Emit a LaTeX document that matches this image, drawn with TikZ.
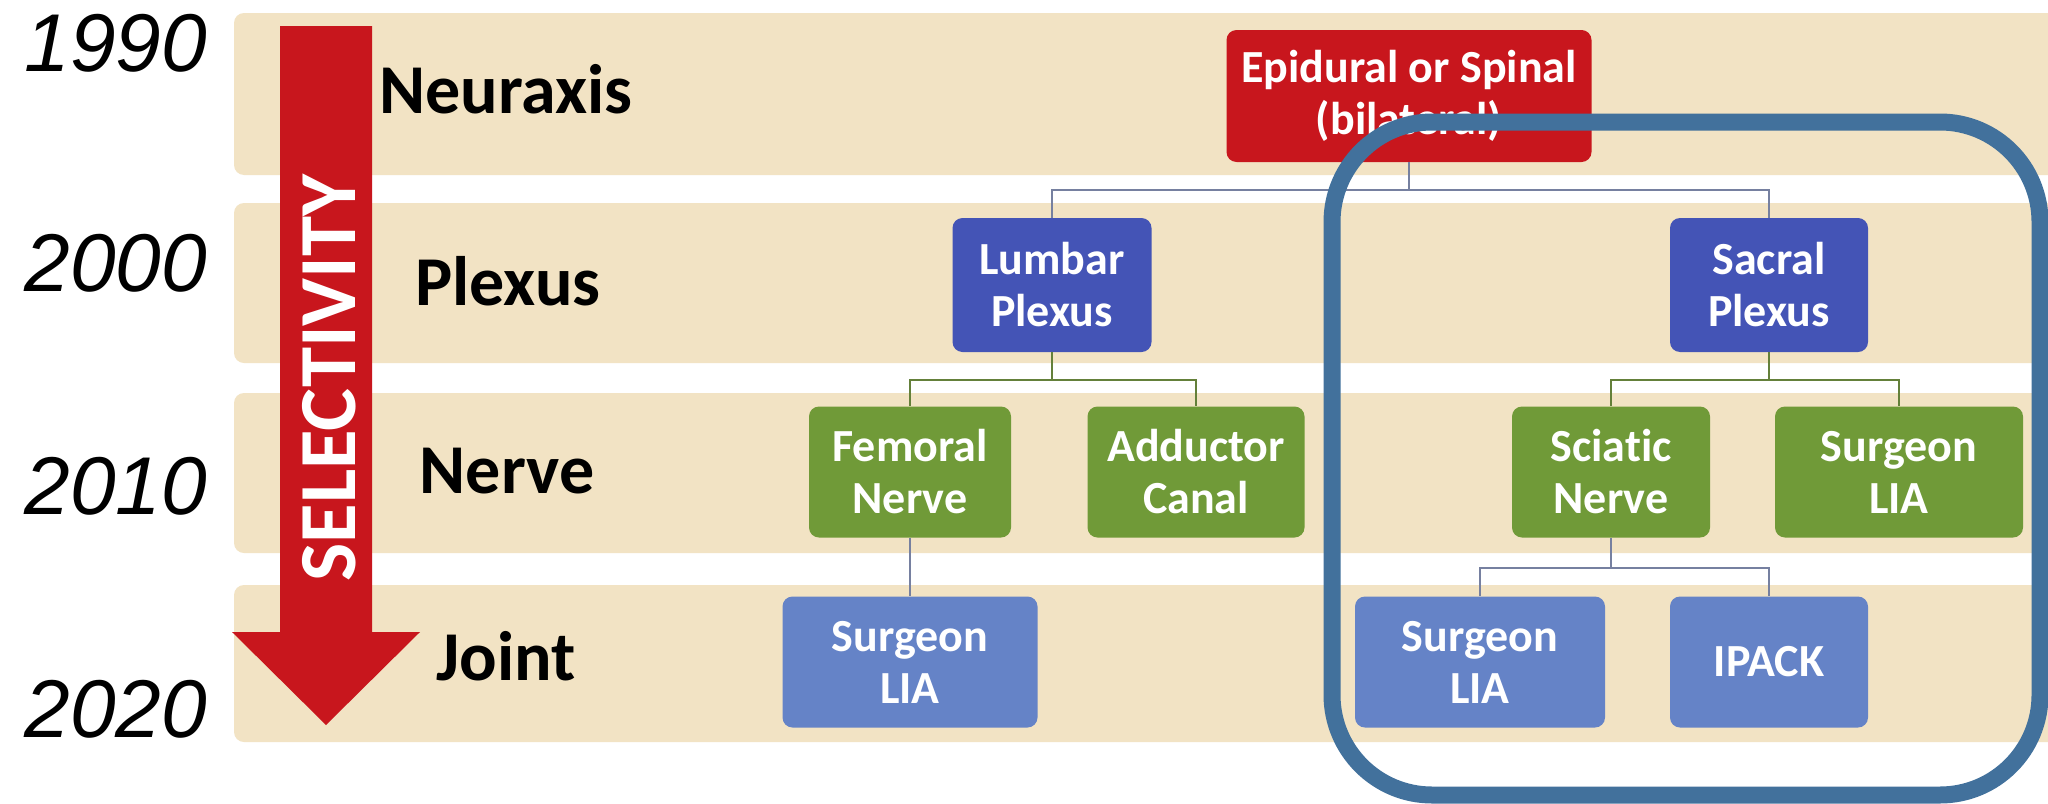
\documentclass[tikz,border=0pt]{standalone}
\usepackage{fontspec}
\setmainfont{Carlito}[Ligatures=CommonOff]
\newfontfamily\yearfont{Liberation Sans}
\definecolor{bandc}{RGB}{242,227,196}
\definecolor{redc}{RGB}{200,22,29}
\definecolor{plexc}{RGB}{68,84,182}
\definecolor{nervec}{RGB}{112,154,56}
\definecolor{jointc}{RGB}{101,131,199}
\definecolor{outlc}{RGB}{66,113,156}
\definecolor{linkblue}{RGB}{118,128,160}
\definecolor{linkgreen}{RGB}{100,128,58}
\tikzset{
  box/.style={rounded corners=5pt, text=white, align=center,
    font=\fontsize{23}{26}\selectfont\bfseries, inner sep=0pt},
  band/.style={fill=bandc, rounded corners=5pt},
  rowlabel/.style={font=\fontsize{35}{40}\selectfont\bfseries, anchor=base},
  yearlabel/.style={font=\yearfont\itshape\fontsize{41}{46}\selectfont, anchor=east},
  bluelink/.style={draw=linkblue, line width=1.2pt},
  greenlink/.style={draw=linkgreen, line width=1.2pt}
}
\begin{document}
\begin{tikzpicture}[x=0.5pt,y=-0.5pt]
\useasboundingbox (0,0) rectangle (2048,803);
\clip (0,0) rectangle (2048,803);
\fill[white] (0,0) rectangle (2048,803);
% bands
\path[band] (234,13) rectangle (2070,175);
\path[band] (234,203) rectangle (2070,363);
\path[band] (234,393) rectangle (2070,553);
\path[band] (234,585) rectangle (2070,742);
% red arrow
\fill[redc] (280,26) -- (372,26) -- (372,632) -- (420,632) -- (326,725) -- (232,632) -- (280,632) -- cycle;
\node[rotate=90, text=white, font=\fontsize{40.5}{44}\selectfont\bfseries] (sel) at (329,378) {SELECTIVITY};
% years
\node[yearlabel] (y1990) at (214,43) {1990};
\node[yearlabel] (y2000) at (214,263) {2000};
\node[yearlabel] (y2010) at (214,486) {2010};
\node[yearlabel] (y2020) at (214,709) {2020};
% row labels
\node[rowlabel] (lneur) at (506,113) {Neuraxis};
\node[rowlabel] (lplex) at (508,305) {Plexus};
\node[rowlabel] (lnerv) at (507,493) {Nerve};
\node[rowlabel] (ljoin) at (506,680) {Joint};
% boxes
\node[box, fill=redc, minimum width=182.5pt, minimum height=66pt] (epi) at (1409,96) {Epidural or Spinal\\(bilateral)};
\node[box, fill=plexc, minimum width=99.5pt, minimum height=67pt] (lumbar) at (1052,285) {Lumbar\\Plexus};
\node[box, fill=plexc, minimum width=99pt, minimum height=67pt] (sacral) at (1769,285) {Sacral\\Plexus};
\node[box, fill=nervec, minimum width=101pt, minimum height=65.5pt] (femoral) at (910,472) {Femoral\\Nerve};
\node[box, fill=nervec, minimum width=108.5pt, minimum height=65.5pt] (adductor) at (1196,472) {Adductor\\Canal};
\node[box, fill=nervec, minimum width=99pt, minimum height=65.5pt] (sciatic) at (1611,472) {Sciatic\\Nerve};
\node[box, fill=nervec, minimum width=124pt, minimum height=65.5pt] (sliaN) at (1899,472) {Surgeon\\LIA};
\node[box, fill=jointc, minimum width=127.5pt, minimum height=65.5pt] (sliaA) at (910,662) {Surgeon\\LIA};
\node[box, fill=jointc, minimum width=125pt, minimum height=65.5pt] (sliaB) at (1480,662) {Surgeon\\LIA};
\node[box, fill=jointc, minimum width=99pt, minimum height=65.5pt] (ipack) at (1769,662) {IPACK};
% connectors
\coordinate (j1) at (1409,190);
\coordinate (j2) at (1052,380);
\coordinate (j3) at (1769,380);
\coordinate (j4) at (1611,568);
\draw[bluelink] (epi.south) -- (j1);
\draw[bluelink] (lumbar.north) |- (j1) -| (sacral.north);
\draw[greenlink] (lumbar.south) -- (j2);
\draw[greenlink] (femoral.north) |- (j2) -| (adductor.north);
\draw[greenlink] (sacral.south) -- (j3);
\draw[greenlink] (sciatic.north) |- (j3) -| (sliaN.north);
\draw[bluelink] (femoral.south) -- (sliaA.north);
\draw[bluelink] (sciatic.south) -- (j4);
\draw[bluelink] (sliaB.north) |- (j4) -| (ipack.north);
% highlight outline
\draw[outlc, line width=8.5pt, rounded corners=50pt] (1332,122) rectangle (2040,795);
\end{tikzpicture}
\end{document}
